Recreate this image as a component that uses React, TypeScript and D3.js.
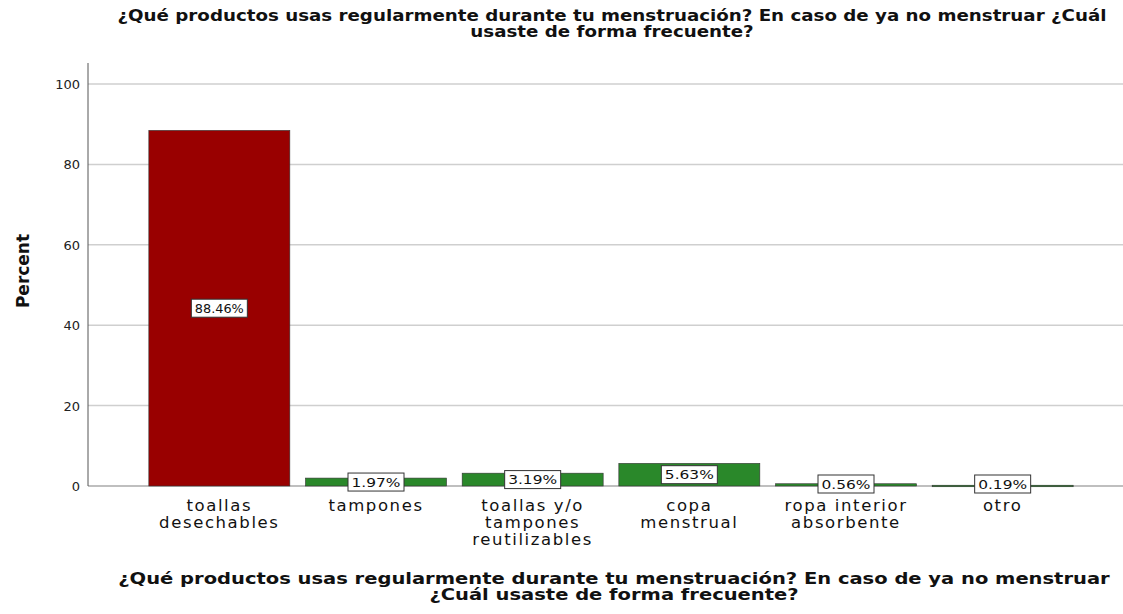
import React, { useLayoutEffect, useRef, useState } from "react";
import * as d3 from "d3";

const categories: string[][] = [
  ["toallas", "desechables"],
  ["tampones"],
  ["toallas y/o", "tampones", "reutilizables"],
  ["copa", "menstrual"],
  ["ropa interior", "absorbente"],
  ["otro"],
];
const percents: number[] = [88.46, 1.97, 3.19, 5.63, 0.56, 0.19];
const barColors: string[] = ["#990000", "#2a882a", "#2a882a", "#2a882a", "#2a882a", "#2a882a"];
const yTicks: number[] = [0, 20, 40, 60, 80, 100];
const titleLines: string[] = [
  "¿Qué productos usas regularmente durante tu menstruación? En caso de ya no menstruar ¿Cuál",
  "usaste de forma frecuente?",
];
const xTitleLines: string[] = [
  "¿Qué productos usas regularmente durante tu menstruación? En caso de ya no menstruar",
  "¿Cuál usaste de forma frecuente?",
];
const yTitle = "Percent";

const W = 1123;
const H = 614;
const left = 88;
const right = 1123;
const base = 486;

export default function App() {
  const idx = categories.map((_, i) => String(i));
  const x = d3.scaleBand<string>().domain(idx).range([141, 1081]).paddingInner(0.1).paddingOuter(0.05);
  const y = d3.scaleLinear().domain([0, 100]).range([base, 84]);
  const sans = "'DejaVu Sans', sans-serif";
  const t1 = useRef<SVGTextElement>(null);
  const t2 = useRef<SVGTextElement>(null);
  const [s1, setS1] = useState(1);
  const [s2, setS2] = useState(1);
  useLayoutEffect(() => {
    if (t1.current) setS1(990 / t1.current.getComputedTextLength());
    if (t2.current) setS2(992 / t2.current.getComputedTextLength());
  }, []);
  const tStyle = { fontFamily: sans, fontWeight: "bold" as const, fontSize: 15, fill: "#111" };
  return (
    <svg width={W} height={H} style={{ position: "absolute", left: 0, top: 0, background: "#fff" }}>
      <rect width={W} height={H} fill="#fff" />
      {/* title */}
      <g transform={`translate(612,0) scale(${s1},1)`}>
        <text ref={t1} x={0} y={21} textAnchor="middle" {...tStyle}>{titleLines[0]}</text>
        <text x={0} y={37} textAnchor="middle" {...tStyle}>{titleLines[1]}</text>
      </g>
      {/* gridlines */}
      {yTicks.map((t) => (
        <line key={"g" + t} x1={left} x2={right} y1={y(t)} y2={y(t)} stroke={t === 0 ? "#aaa" : "#cfcfcf"} strokeWidth={1.5} />
      ))}
      {/* y axis */}
      <line x1={left} x2={left} y1={63} y2={base} stroke="#555" strokeWidth={1} />
      {yTicks.map((t) => (
        <text key={"t" + t} x={80} y={y(t) + 5} textAnchor="end" fontFamily={sans} fontSize={13} fill="#222">{t}</text>
      ))}
      <text transform={`translate(29,271) rotate(-90)`} textAnchor="middle" fontFamily={sans} fontWeight="bold" fontSize={17} fill="#111">{yTitle}</text>
      {/* bars */}
      {percents.map((v, i) => (
        <rect key={"b" + i} x={x(String(i))!} y={y(v)} width={x.bandwidth()} height={Math.max(base - y(v), 1.5)} fill={barColors[i]} stroke="#333" strokeWidth={0.6} />
      ))}
      {/* value labels */}
      {percents.map((v, i) => {
        const label = v.toFixed(2) + "%";
        const cx = x(String(i))! + x.bandwidth() / 2;
        const cy = Math.min((y(v) + base) / 2, base - 2);
        const w = 56;
        return (
          <g key={"l" + i}>
            <rect x={cx - w / 2} y={cy - 9} width={w} height={18} fill="#fff" stroke="#333" strokeWidth={1} />
            <text x={cx} y={cy + 4.5} textAnchor="middle" fontFamily={sans} fontSize={12.5} textLength={49} lengthAdjust="spacingAndGlyphs" fill="#111">{label}</text>
          </g>
        );
      })}
      {/* category labels */}
      {categories.map((lines, i) => (
        <text key={"c" + i} textAnchor="middle" fontFamily={sans} fontSize={16.5} letterSpacing={1.6} fill="#111">
          {lines.map((ln, j) => (
            <tspan key={j} x={x(String(i))! + x.bandwidth() / 2} y={511 + j * 17}>{ln}</tspan>
          ))}
        </text>
      ))}
      {/* x title */}
      <g transform={`translate(614,0) scale(${s2},1)`}>
        <text ref={t2} x={0} y={584} textAnchor="middle" {...tStyle}>{xTitleLines[0]}</text>
        <text x={0} y={600} textAnchor="middle" {...tStyle}>{xTitleLines[1]}</text>
      </g>
    </svg>
  );
}
